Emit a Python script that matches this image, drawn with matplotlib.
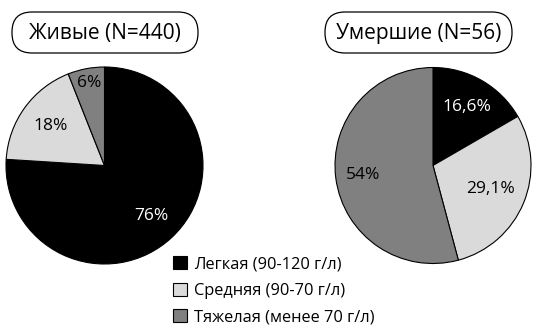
import matplotlib
matplotlib.use('Agg')
import matplotlib.pyplot as plt
from matplotlib.patches import FancyBboxPatch
import numpy as np

plt.rcParams['font.family'] = ['Open Sans', 'DejaVu Sans']

# data
categories = ['Легкая (90-120 г/л)', 'Средняя (90-70 г/л)', 'Тяжелая (менее 70 г/л)']
alive_values = [76, 18, 6]
alive_labels = ['76%', '18%', '6%']
dead_values = [16.6, 29.1, 54]
dead_labels = ['16,6%', '29,1%', '54%']
titles = ['Живые (N=440)', 'Умершие (N=56)']

colors = ['#000000', '#dadada', '#808080']
text_colors = ['white', 'black', 'black']

W, H = 550, 332
fig = plt.figure(figsize=(W / 100, H / 100), dpi=100)

# background axes in pixel coordinates (for title boxes)
bg = fig.add_axes([0, 0, 1, 1])
bg.set_xlim(0, W)
bg.set_ylim(H, 0)
bg.axis('off')


def draw_pie(rect, values, labels, dists):
    ax = fig.add_axes(rect)
    wedges, _ = ax.pie(values, colors=colors, startangle=90, counterclock=False,
                       radius=1, wedgeprops=dict(edgecolor='black', linewidth=0.8))
    for w, lab, d, tc in zip(wedges, labels, dists, text_colors):
        ang = np.deg2rad((w.theta1 + w.theta2) / 2)
        ax.text(d * np.cos(ang), d * np.sin(ang), lab, ha='center', va='center',
                fontsize=12.5, color=tc)
    ax.set_xlim(-1, 1)
    ax.set_ylim(-1, 1)
    ax.axis('off')
    return wedges


wedges = draw_pie([6 / W, 68 / H, 197 / W, 197 / H], alive_values, alive_labels,
                  [0.70, 0.675, 0.85])
draw_pie([335 / W, 68.5 / H, 196 / W, 196 / H], dead_values, dead_labels,
         [0.69, 0.63, 0.72])

# title boxes
for (x0, x1), t in zip([(12, 198), (325, 512)], titles):
    box = FancyBboxPatch((x0, 12), x1 - x0, 41,
                         boxstyle='round,pad=0,rounding_size=20',
                         facecolor='white', edgecolor='black', linewidth=0.9)
    bg.add_patch(box)
    bg.text((x0 + x1) / 2, 33, t, ha='center', va='center', fontsize=15)

# legend
fig.legend(wedges, categories, loc='upper left',
           bbox_to_anchor=(165 / W, 1 - 248 / H), frameon=False,
           fontsize=11.8, handlelength=0.85, handleheight=0.85,
           handletextpad=0.45, labelspacing=0.62, borderpad=0)

fig.savefig('out.png', dpi=100)
